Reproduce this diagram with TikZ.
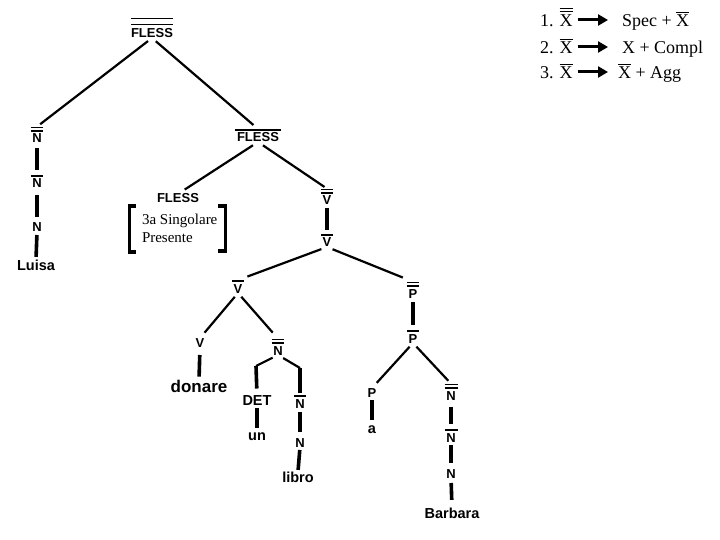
\documentclass[tikz,border=0pt]{standalone}
\usepackage{fontspec}
\setmainfont{Liberation Serif}
\newfontfamily\tfont{Liberation Sans}
\usetikzlibrary{arrows.meta}
% bars over tree labels
\newcommand\obA[1]{\vbox{\hrule height1.6pt\kern2.4pt\hbox{\kern1.8pt#1\kern1.8pt}}}
\newcommand\obB[1]{\vbox{\hrule height1.6pt\kern1.8pt\hrule height1.6pt\kern2.4pt\hbox{\kern1.8pt#1\kern1.8pt}}}
\newcommand\obW[1]{\vbox{\hrule height1.8pt\kern4.2pt\hrule height1.8pt\kern3.6pt\hbox{#1}}}
% bars over serif X in the rules
\newcommand\sbA[1]{\vbox{\hrule height1.2pt\kern2.3pt\hbox{#1}}}
\newcommand\sbB[1]{\vbox{\hrule height1.2pt\kern1.3pt\hrule height1.2pt\kern3.5pt\hbox{#1}}}
\tikzset{
  lab/.style={font=\tfont\bfseries\fontsize{13}{15}\selectfont, inner sep=0pt, outer sep=0pt, text depth=0pt, anchor=base},
  wrd/.style={lab, font=\tfont\bfseries\fontsize{14.5}{16}\selectfont},
  big/.style={lab, font=\tfont\bfseries\fontsize{17}{19}\selectfont},
  feat/.style={font=\fontsize{15}{17}\selectfont, inner sep=0pt, outer sep=0pt, anchor=base west},
  rule/.style={font=\fontsize{18}{20}\selectfont, inner sep=0pt, outer sep=0pt, anchor=base west},
  sl/.style={line width=2.2pt, shorten <=5pt, shorten >=4pt},
  vl/.style={line width=3.6pt, shorten <=4pt, shorten >=5pt},
  brk/.style={line width=3.6pt, miter limit=10},
  arr/.style={line width=3pt, -{Triangle[length=10pt,width=11pt]}, shorten <=5pt, shorten >=14pt},
}
\begin{document}
\begin{tikzpicture}[x=1pt,y=-1pt]
\fill[white] (0,0) rectangle (720,540);
\useasboundingbox (0,0) rectangle (720,540);

% ---------- rules ----------
\node[rule] (l1) at (540,27) {1. \sbB{X}};
\node[rule] (r1) at (622,27) {Spec + \sbA{X}};
\node[rule] (l2) at (540,54) {2. \sbA{X}};
\node[rule] (r2) at (622,54) {X + Compl};
\node[rule] (l3) at (540,79) {3. \sbA{X}};
\node[rule] (r3) at (618,79) {\sbA{X} + Agg};
\draw[arr] ([yshift=7pt]l1.base east) -- ([yshift=7pt]r1.base west);
\draw[arr] ([yshift=7pt]l2.base east) -- ([yshift=7pt]r2.base west);
\draw[arr, shorten >=10pt] ([yshift=7pt]l3.base east) -- ([yshift=7pt]r3.base west);

% ---------- tree nodes ----------
\node[lab] (f1) at (152,38) {\obW{FLESS}};
\node[lab] (n1a) at (37,143) {\obB{N}};
\node[lab] (n1b) at (37,188) {\obA{N}};
\node[lab] (n1c) at (37,232) {N};
\node[wrd] (luisa) at (36,270) {Luisa};

\node[lab] (f2) at (258,142) {\obA{FLESS}};
\node[lab] (f3) at (178,203) {FLESS};
\node[feat] (ft1) at (142,225) {3a Singolare};
\node[feat] (ft2) at (142,242) {Presente};

\node[lab] (v1) at (327,205) {\obB{V}};
\node[lab] (v2) at (327,247) {\obA{V}};
\node[lab] (v3) at (238,293) {\obA{V}};
\node[lab] (v4) at (200,347) {V};
\node[big] (donare) at (199,392) {donare};

\node[lab] (n2a) at (278,355) {\obB{N}};
\coordinate (rf1) at (256,366);
\coordinate (rf2) at (300,368);
\node[wrd] (det) at (257,405) {DET};
\node[wrd] (un) at (257,440) {un};
\node[lab] (n2b) at (300,408) {\obA{N}};
\node[lab] (n2c) at (300,447) {N};
\node[wrd] (libro) at (298,482) {libro};

\node[lab] (p1) at (413,298) {\obB{P}};
\node[lab] (p2) at (413,343) {\obA{P}};
\node[lab] (p3) at (372,397) {P};
\node[wrd] (a) at (372,433) {a};
\node[lab] (n3a) at (451,400) {\obB{N}};
\node[lab] (n3b) at (451,442) {\obA{N}};
\node[lab] (n3c) at (451,478) {N};
\node[wrd] (barbara) at (452,518) {Barbara};

% ---------- brackets ----------
\draw[brk] (136,206) -- (129.5,206) -- (129.5,252) -- (136,252);
\draw[brk] (218,206) -- (225.5,206) -- (225.5,251) -- (218,251);

% ---------- connectors ----------
\draw[sl] (f1.south) -- (n1a.north);
\draw[sl, shorten >=6pt] (f1.south) -- (f2.north);
\draw[vl, shorten <=5pt, shorten >=4.7pt] (n1a.south) -- (n1b.north);
\draw[vl, shorten <=7pt, shorten >=5.7pt] (n1b.south) -- (n1c.north);
\draw[vl, shorten <=3pt, shorten >=2.6pt] (n1c.south) -- (luisa.north);

\draw[sl, shorten <=6pt, shorten >=8pt] (f2.south) -- (f3.north);
\draw[sl, shorten <=6pt, shorten >=3pt] (f2.south) -- (v1.north);
\draw[vl, shorten <=3pt, shorten >=3.7pt] (v1.south) -- (v2.north);

\draw[sl, shorten <=6pt, shorten >=10pt] (v2.south) -- (v3.north);
\draw[sl, shorten <=6pt, shorten >=11pt] (v2.south) -- (p1.north);

\draw[sl, shorten <=5pt, shorten >=7pt] (v3.south) -- (v4.north);
\draw[sl, shorten <=5pt, shorten >=8pt] (v3.south) -- (n2a.north);
\draw[vl, shorten <=8pt, shorten >=3pt] (v4.south) -- (donare.north);

\draw[sl, shorten <=6pt, shorten >=0pt] (n2a.south) -- (rf1);
\draw[sl, shorten <=6pt, shorten >=0pt] (n2a.south) -- (rf2);
\draw[vl, shorten <=0pt, shorten >=6.5pt] (rf1) -- (det.north);
\draw[vl, shorten <=0pt, shorten >=2pt] (rf2) -- (n2b.north);
\draw[vl, shorten <=3pt, shorten >=4.5pt] (det.south) -- (un.north);
\draw[vl, shorten <=4pt, shorten >=5.7pt] (n2b.south) -- (n2c.north);
\draw[vl, shorten <=3pt, shorten >=1.6pt] (n2c.south) -- (libro.north);

\draw[vl, shorten <=4pt, shorten >=4.7pt] (p1.south) -- (p2.north);
\draw[sl, shorten <=5pt, shorten >=7pt] (p2.south) -- (p3.north);
\draw[sl, shorten <=5pt, shorten >=4pt] (p2.south) -- (n3a.north);
\draw[vl, shorten <=3pt, shorten >=5pt] (p3.south) -- (a.north);
\draw[vl, shorten <=6.7pt, shorten >=5.4pt] (n3a.south) -- (n3b.north);
\draw[vl, shorten <=3pt, shorten >=5.7pt] (n3b.south) -- (n3c.north);
\draw[vl, shorten <=5pt, shorten >=7.6pt] (n3c.south) -- (barbara.north);
\end{tikzpicture}
\end{document}
